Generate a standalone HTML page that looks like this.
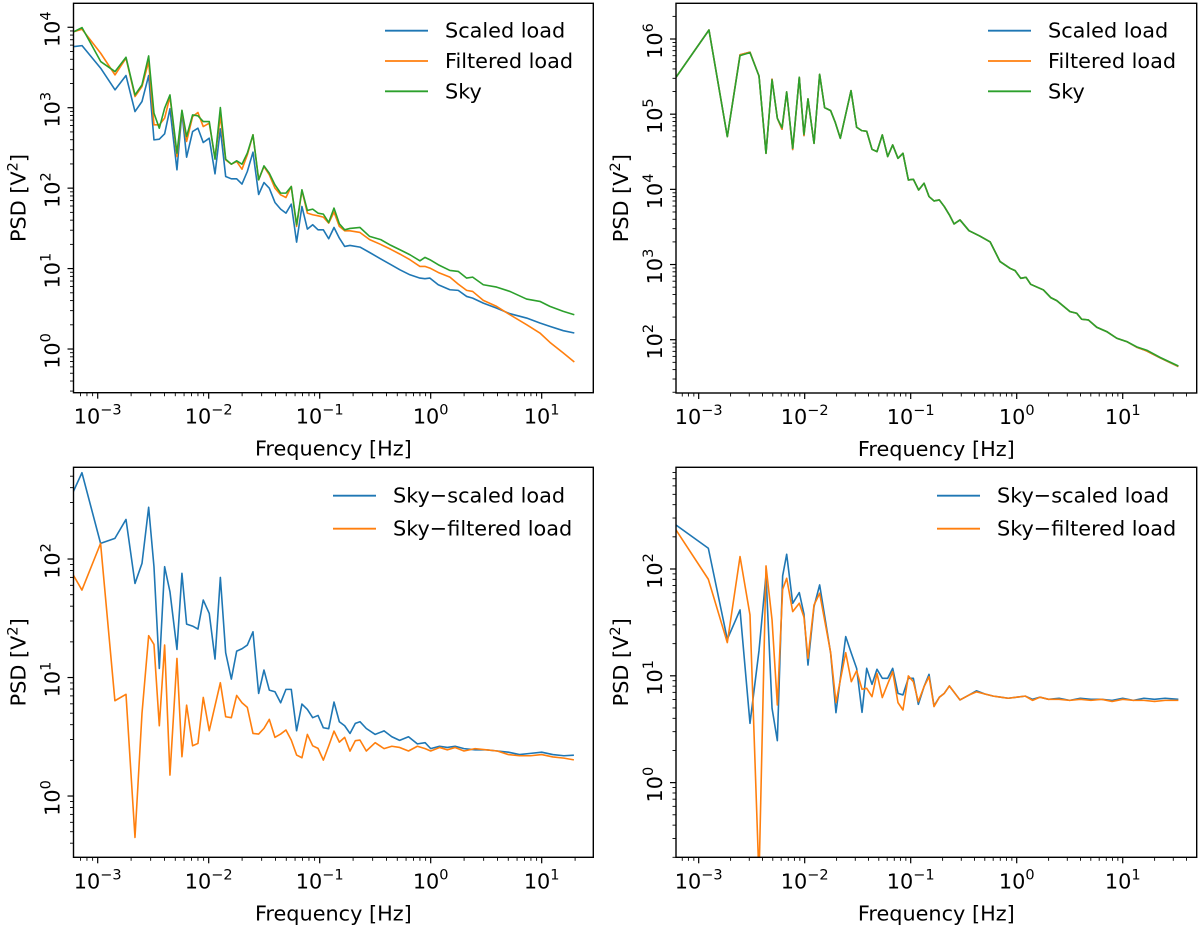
<!DOCTYPE html>
<html><head><meta charset="utf-8"><style>
html,body{margin:0;padding:0;background:#fff;}
svg{display:block;font-family:"DejaVu Sans","Liberation Sans",sans-serif;}
</style></head><body>
<svg id="fig" width="1200" height="927" viewBox="0 0 1200 927" xmlns="http://www.w3.org/2000/svg"></svg>
<script>
// ---- Data (log10 frequency [Hz], log10 PSD [V^2]) ----
const tlFreq=[-3.213,-3.141,-2.973,-2.844,-2.745,-2.664,-2.601,-2.541,-2.493,-2.445,-2.397,-2.349,-2.286,-2.241,-2.199,-2.145,-2.097,-2.049,-1.995,-1.943,-1.895,-1.847,-1.796,-1.748,-1.700,-1.652,-1.601,-1.550,-1.502,-1.454,-1.403,-1.352,-1.304,-1.256,-1.208,-1.160,-1.111,-1.063,-1.015,-0.967,-0.919,-0.871,-0.823,-0.775,-0.727,-0.637,-0.55,-0.45,-0.36,-0.277,-0.187,-0.097,-0.052,-0.007,0.068,0.173,0.248,0.324,0.378,0.474,0.594,0.714,0.864,0.984,1.074,1.195,1.294];
const tlScaled=[3.760,3.772,3.491,3.222,3.400,2.952,3.077,3.400,2.600,2.609,2.675,2.986,2.228,2.944,2.385,2.704,2.745,2.567,2.621,2.178,2.737,2.145,2.116,2.116,2.050,2.207,2.447,1.921,2.070,2.000,1.822,1.739,1.689,1.801,1.329,1.772,1.491,1.545,1.482,1.482,1.371,1.511,1.379,1.275,1.288,1.267,1.20,1.12,1.05,0.985,0.923,0.882,0.874,0.882,0.799,0.737,0.729,0.654,0.633,0.571,0.509,0.439,0.385,0.323,0.281,0.228,0.199];
const tlFiltered=[3.946,3.975,3.677,3.408,3.615,3.139,3.263,3.574,2.787,2.787,2.870,3.139,2.393,2.960,2.580,2.890,2.940,2.766,2.807,2.373,2.893,2.352,2.298,2.331,2.236,2.414,2.663,2.104,2.269,2.166,2.000,1.917,1.884,2.021,1.524,1.971,1.689,1.669,1.656,1.640,1.565,1.702,1.524,1.470,1.470,1.449,1.36,1.30,1.24,1.180,1.110,1.027,1.027,1.006,0.952,0.894,0.807,0.729,0.716,0.605,0.530,0.426,0.302,0.199,0.083,-0.050,-0.162];
const tlSky=[3.946,3.996,3.574,3.449,3.627,3.159,3.284,3.644,2.932,2.745,2.994,3.159,2.435,2.968,2.642,2.911,2.899,2.828,2.828,2.360,3.002,2.360,2.298,2.340,2.298,2.435,2.663,2.104,2.277,2.186,2.041,1.938,1.938,2.021,1.545,1.979,1.723,1.739,1.689,1.677,1.573,1.752,1.557,1.482,1.499,1.511,1.40,1.36,1.29,1.234,1.172,1.097,1.139,1.110,1.048,0.977,0.965,0.882,0.894,0.799,0.770,0.716,0.621,0.592,0.530,0.468,0.426];

const trFreq=[-3.214,-2.903,-2.730,-2.610,-2.516,-2.431,-2.365,-2.308,-2.258,-2.214,-2.170,-2.113,-2.051,-2.007,-1.969,-1.912,-1.859,-1.812,-1.755,-1.711,-1.664,-1.613,-1.563,-1.510,-1.462,-1.415,-1.365,-1.318,-1.268,-1.217,-1.170,-1.120,-1.073,-1.022,-0.975,-0.925,-0.874,-0.827,-0.780,-0.730,-0.683,-0.635,-0.591,-0.535,-0.45,-0.35,-0.25,-0.157,-0.063,-0.015,0.038,0.088,0.132,0.252,0.321,0.378,0.503,0.566,0.613,0.676,0.755,0.849,0.944,1.038,1.132,1.227,1.352,1.525];
const trSky=[5.491,6.120,4.702,5.779,5.819,5.508,4.480,5.455,4.945,4.821,5.296,4.547,5.491,4.733,5.203,4.613,5.530,5.087,5.047,4.888,4.679,4.999,5.313,4.826,4.781,4.773,4.533,4.502,4.724,4.436,4.591,4.413,4.480,4.125,4.134,3.992,4.081,3.904,3.846,3.859,3.771,3.660,3.540,3.593,3.45,3.38,3.30,3.039,2.950,2.919,2.817,2.830,2.737,2.662,2.560,2.520,2.374,2.352,2.272,2.263,2.166,2.108,2.019,1.975,1.905,1.860,1.765,1.650];
const trFiltered=[5.491,6.120,4.702,5.790,5.825,5.508,4.480,5.465,4.945,4.800,5.296,4.530,5.491,4.715,5.203,4.613,5.530,5.087,5.047,4.888,4.679,4.999,5.313,4.826,4.781,4.773,4.533,4.502,4.724,4.436,4.591,4.413,4.480,4.125,4.134,3.992,4.081,3.904,3.846,3.859,3.771,3.660,3.540,3.593,3.45,3.38,3.30,3.039,2.950,2.919,2.817,2.830,2.737,2.662,2.560,2.520,2.374,2.352,2.272,2.263,2.166,2.108,2.019,1.975,1.900,1.850,1.760,1.643];
const trScaled=trFiltered.slice();

const blFreq=[-3.220,-3.142,-2.974,-2.845,-2.745,-2.664,-2.601,-2.541,-2.493,-2.445,-2.397,-2.349,-2.286,-2.241,-2.199,-2.145,-2.097,-2.049,-1.995,-1.943,-1.895,-1.847,-1.796,-1.748,-1.700,-1.652,-1.601,-1.550,-1.502,-1.454,-1.403,-1.352,-1.304,-1.256,-1.208,-1.160,-1.111,-1.063,-1.015,-0.967,-0.919,-0.871,-0.823,-0.775,-0.727,-0.679,-0.637,-0.58,-0.5,-0.42,-0.35,-0.28,-0.2,-0.12,-0.05,0.0,0.08,0.15,0.22,0.3,0.4,0.5,0.6,0.7,0.8,0.9,1.0,1.1,1.2,1.29];
const blScaled=[2.568,2.728,2.132,2.174,2.334,1.794,1.963,2.436,1.935,1.077,1.935,1.724,1.237,1.879,1.451,1.434,1.409,1.654,1.541,1.156,1.845,1.209,0.987,1.223,1.243,1.274,1.386,0.866,1.063,0.894,0.880,0.787,0.900,0.900,0.551,0.776,0.731,0.661,0.680,0.576,0.568,0.793,0.627,0.593,0.528,0.613,0.627,0.57,0.52,0.55,0.50,0.47,0.50,0.44,0.45,0.40,0.42,0.41,0.42,0.40,0.39,0.39,0.38,0.37,0.35,0.36,0.37,0.35,0.34,0.345];
const blFiltered=[1.865,1.738,2.132,0.804,0.858,-0.349,0.697,1.353,1.279,0.593,1.274,0.177,1.161,0.332,0.767,0.424,0.444,0.832,0.551,0.762,0.956,0.669,0.661,0.849,0.787,0.748,0.528,0.523,0.571,0.647,0.495,0.523,0.557,0.472,0.346,0.323,0.520,0.424,0.402,0.303,0.422,0.548,0.455,0.495,0.379,0.467,0.472,0.38,0.45,0.40,0.42,0.41,0.38,0.42,0.40,0.38,0.41,0.39,0.41,0.38,0.40,0.39,0.38,0.35,0.34,0.34,0.35,0.33,0.32,0.305];

const brFreq=[-3.214,-2.909,-2.730,-2.610,-2.516,-2.431,-2.365,-2.308,-2.258,-2.208,-2.170,-2.113,-2.051,-2.007,-1.969,-1.912,-1.859,-1.755,-1.705,-1.613,-1.560,-1.510,-1.459,-1.415,-1.365,-1.318,-1.268,-1.217,-1.170,-1.120,-1.073,-1.022,-0.975,-0.928,-0.874,-0.827,-0.780,-0.730,-0.683,-0.635,-0.535,-0.45,-0.38,-0.3,-0.22,-0.15,-0.08,0.0,0.08,0.15,0.22,0.3,0.4,0.5,0.6,0.7,0.8,0.9,1.0,1.1,1.2,1.3,1.4,1.525];
const brScaled=[2.412,2.194,1.342,1.617,0.555,1.236,1.944,0.696,0.393,1.935,2.138,1.679,1.779,1.579,1.101,1.648,1.851,1.211,0.655,1.367,1.211,1.070,0.658,1.070,0.920,1.061,0.977,0.977,1.070,0.836,0.821,0.977,0.977,0.733,0.899,1.014,0.718,0.799,0.836,0.905,0.774,0.82,0.86,0.83,0.81,0.80,0.79,0.80,0.81,0.78,0.80,0.78,0.79,0.77,0.79,0.78,0.78,0.77,0.79,0.77,0.79,0.78,0.79,0.78];
const brFiltered=[2.366,1.904,1.311,2.116,1.570,-0.9,2.029,1.523,0.727,1.810,1.913,1.601,1.679,1.55,1.164,1.663,1.773,1.217,0.749,1.217,0.945,1.048,0.874,0.883,0.805,1.023,0.796,0.924,1.039,0.749,0.680,0.999,0.945,0.758,0.899,0.992,0.712,0.799,0.836,0.905,0.774,0.82,0.85,0.83,0.81,0.80,0.79,0.80,0.81,0.77,0.80,0.78,0.78,0.77,0.78,0.77,0.78,0.76,0.78,0.77,0.77,0.76,0.77,0.77];

const C={blue:"#1f77b4",orange:"#ff7f0e",green:"#2ca02c"};
const NS="http://www.w3.org/2000/svg";
const FS=20.8, SFS=14.5;
const fig=document.getElementById('fig');
function mk(tag,attrs,parent){const e=document.createElementNS(NS,tag);for(const k in attrs)e.setAttribute(k,attrs[k]);(parent||fig).appendChild(e);return e;}

const panels=[
 {id:'top-left',l:73.5,t:3.3,r:593.3,b:392.7,x0:-3.218,x1:1.465,y0:-0.543,y1:4.298,
  series:[['scaled-load',tlFreq,tlScaled,C.blue],['filtered-load',tlFreq,tlFiltered,C.orange],['sky',tlFreq,tlSky,C.green]],
  legend:{x:385,y:30.7,dy:30.3,labels:['Scaled load','Filtered load','Sky'],colors:[C.blue,C.orange,C.green]}},
 {id:'top-right',l:676,t:3.3,r:1196.7,b:393,x0:-3.214,x1:1.698,y0:1.291,y1:6.475,
  series:[['scaled-load',trFreq,trScaled,C.blue],['filtered-load',trFreq,trFiltered,C.orange],['sky',trFreq,trSky,C.green]],
  legend:{x:988,y:30.7,dy:30.3,labels:['Scaled load','Filtered load','Sky'],colors:[C.blue,C.orange,C.green]}},
 {id:'bottom-left',l:73.5,t:467.3,r:593.3,b:857.3,x0:-3.218,x1:1.465,y0:-0.517,y1:2.774,
  series:[['sky-scaled-load',blFreq,blScaled,C.blue],['sky-filtered-load',blFreq,blFiltered,C.orange]],
  legend:{x:333,y:495.7,dy:33,labels:['Sky\u2212scaled load','Sky\u2212filtered load'],colors:[C.blue,C.orange]}},
 {id:'bottom-right',l:676,t:467.3,r:1196.7,b:857.3,x0:-3.214,x1:1.698,y0:-0.699,y1:2.952,
  series:[['sky-scaled-load',brFreq,brScaled,C.blue],['sky-filtered-load',brFreq,brFiltered,C.orange]],
  legend:{x:937,y:495.7,dy:33,labels:['Sky\u2212scaled load','Sky\u2212filtered load'],colors:[C.blue,C.orange]}}
];

function powLabel(g,x,y,exp,rot){
  const attrs={x:x,y:y,'font-size':FS,'text-anchor':'middle',fill:'#000'};
  if(rot) attrs.transform='rotate(-90 '+x+' '+y+')';
  const t=mk('text',attrs,g);
  
  
  const a=mk('tspan',{},t);a.textContent='10';
  const s=mk('tspan',{dy:-9,'font-size':SFS},t);s.textContent=(exp<0?'\u2212':'')+Math.abs(exp);
}

panels.forEach(p=>{
  const g=mk('g',{});
  
  
  const X=v=>p.l+(v-p.x0)/(p.x1-p.x0)*(p.r-p.l);
  const Y=v=>p.b-(v-p.y0)/(p.y1-p.y0)*(p.b-p.t);
  const cid='clip-'+p.id;
  const cp=mk('clipPath',{id:cid},g);mk('rect',{x:p.l,y:p.t,width:p.r-p.l,height:p.b-p.t},cp);
  p.series.forEach(s=>{
    const [name,fx,vy,col]=s;
    const d=fx.map((f,i)=>(i?'L':'M')+X(f).toFixed(2)+','+Y(vy[i]).toFixed(2)).join('');
    const path=mk('path',{d:d,fill:'none',stroke:col,'stroke-width':1.6,'stroke-linejoin':'round','clip-path':'url(#'+cid+')'},g);
    
    
  });
  const tg=mk('g',{stroke:'#000','stroke-width':1},g);
  for(let e=Math.floor(p.x0);e<=Math.ceil(p.x1);e++){
    for(let m=1;m<10;m++){
      const v=e+Math.log10(m); if(v<p.x0||v>p.x1) continue;
      const x=X(v); mk('line',{x1:x,x2:x,y1:p.b,y2:p.b+(m===1?6:3.5),'stroke-width':m===1?1.2:0.9},tg);
      if(m===1) powLabel(g,x,p.b+31,e,false);
    }
  }
  for(let e=Math.floor(p.y0);e<=Math.ceil(p.y1);e++){
    for(let m=1;m<10;m++){
      const v=e+Math.log10(m); if(v<p.y0||v>p.y1) continue;
      const y=Y(v); mk('line',{x1:p.l,x2:p.l-(m===1?6:3.5),y1:y,y2:y,'stroke-width':m===1?1.2:0.9},tg);
      if(m===1) powLabel(g,p.l-14,y+2,e,true);
    }
  }
  const fr=mk('rect',{x:p.l,y:p.t,width:p.r-p.l,height:p.b-p.t,fill:'none',stroke:'#000','stroke-width':1.4},g);
  
  
  const xl=mk('text',{x:(p.l+p.r)/2,y:p.b+63,'font-size':FS,'text-anchor':'middle'},g);
  xl.textContent='Frequency [Hz]';
  
  
  const yx=p.l-48, yc=(p.t+p.b)/2;
  const yl=mk('text',{x:yx,y:yc,'font-size':FS,'text-anchor':'middle',transform:'rotate(-90 '+yx+' '+yc+')'},g);
  
  
  const y1=mk('tspan',{},yl);y1.textContent='PSD [V';
  const y2=mk('tspan',{dy:-8,'font-size':SFS},yl);y2.textContent='2';
  const y3=mk('tspan',{dy:8},yl);y3.textContent=']';
  const lg=mk('g',{},g);
  
  
  p.legend.labels.forEach((lab,i)=>{
    const yy=p.legend.y+i*p.legend.dy;
    const ln=mk('line',{x1:p.legend.x,x2:p.legend.x+43,y1:yy,y2:yy,stroke:p.legend.colors[i],'stroke-width':1.8},lg);
    
    
    const tx=mk('text',{x:p.legend.x+60,y:yy+7,'font-size':FS},lg);
    tx.textContent=lab;
    
    
  });
});
</script>
</body></html>
